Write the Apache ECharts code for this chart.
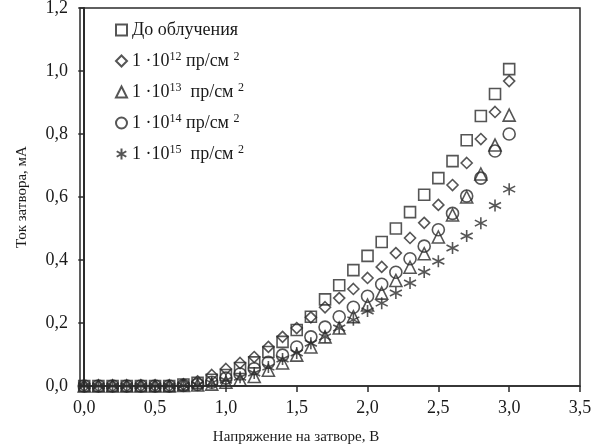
<!DOCTYPE html>
<html>
<head>
<meta charset="utf-8">
<script src="https://cdn.jsdelivr.net/npm/echarts@6/dist/echarts.min.js"></script>
<style>
  html, body { margin: 0; padding: 0; background: #fff; }
  #chart { width: 598px; height: 446px; }
</style>
</head>
<body>
<div id="chart"></div>
<script>
// напряжение на затворе, В
const voltage = [0, 0.1, 0.2, 0.3, 0.4, 0.5, 0.6, 0.7, 0.8, 0.9, 1.0,
  1.1, 1.2, 1.3, 1.4, 1.5, 1.6, 1.7, 1.8, 1.9, 2.0,
  2.1, 2.2, 2.3, 2.4, 2.5, 2.6, 2.7, 2.8, 2.9, 3.0];

// ток затвора, мА
const before = [0, 0, 0, 0, 0, 0, 0, 0.005, 0.01, 0.02, 0.035,
  0.057, 0.075, 0.108, 0.14, 0.178, 0.22, 0.275, 0.32, 0.368, 0.413,
  0.457, 0.50, 0.552, 0.607, 0.66, 0.714, 0.78, 0.857, 0.927, 1.006];
const dose12 = [0, 0, 0, 0, 0, 0, 0, 0.005, 0.015, 0.035, 0.054,
  0.073, 0.092, 0.124, 0.156, 0.184, 0.218, 0.25, 0.279, 0.308, 0.343,
  0.378, 0.422, 0.47, 0.518, 0.575, 0.638, 0.708, 0.784, 0.87, 0.968];
const dose13 = [0, 0, 0, 0, 0, 0, 0, 0.002, 0.003, 0.006, 0.012,
  0.02, 0.03, 0.05, 0.073, 0.098, 0.124, 0.156, 0.184, 0.22, 0.257,
  0.295, 0.335, 0.377, 0.42, 0.473, 0.543, 0.60, 0.673, 0.765, 0.86];
const dose14 = [0, 0, 0, 0, 0, 0, 0, 0.002, 0.005, 0.012, 0.025,
  0.038, 0.055, 0.075, 0.098, 0.124, 0.156, 0.187, 0.22, 0.25, 0.285,
  0.323, 0.361, 0.404, 0.444, 0.496, 0.548, 0.603, 0.66, 0.746, 0.80];
const dose15 = [0, 0, 0, 0, 0, 0, 0, 0.002, 0.004, 0.01, 0.018,
  0.028, 0.041, 0.06, 0.086, 0.105, 0.136, 0.156, 0.184, 0.21, 0.238,
  0.263, 0.295, 0.327, 0.362, 0.396, 0.438, 0.476, 0.517, 0.573, 0.625];

const seriesNames = ['До облучения', '1e12', '1e13', '1e14', '1e15'];
const legendLabels = [
  'До облучения',
  '1 ·10{s|12} пр/см {s|2}',
  '1 ·10{s|13}  пр/см {s|2}',
  '1 ·10{s|14} пр/см {s|2}',
  '1 ·10{s|15}  пр/см {s|2}'
];
const xTicks = [0, 0.5, 1.0, 1.5, 2.0, 2.5, 3.0, 3.5];

const ink = '#2b2b2b';
const txt = '#1a1a1a';
const font = 'Liberation Serif';
// звёздочка из трёх отрезков
const asterisk = 'path://M0,-1L0,1M-0.87,-0.5L0.87,0.5M-0.87,0.5L0.87,-0.5';

function pts(vals) {
  return voltage.map((v, i) => [v, vals[i]]);
}

function mk(name, vals, symbol, size) {
  return {
    name: name,
    type: 'scatter',
    data: pts(vals),
    symbol: symbol,
    symbolSize: size,
    silent: true,
    itemStyle: {
      color: 'rgba(255,255,255,0)',
      borderColor: ink,
      borderWidth: 1.6
    }
  };
}

const chart = echarts.init(document.getElementById('chart'));
chart.setOption({
  animation: false,
  backgroundColor: '#fff',
  grid: {
    left: 80, right: 18, top: 8, bottom: 60,
    outerBoundsMode: 'none',
    show: true,
    borderColor: ink,
    borderWidth: 1.5
  },
  legend: {
    orient: 'vertical',
    left: 110,
    top: 15,
    itemGap: 11,
    itemWidth: 11,
    itemHeight: 11,
    selectedMode: false,
    data: seriesNames,
    formatter: function (name) {
      return legendLabels[seriesNames.indexOf(name)];
    },
    textStyle: {
      fontFamily: font,
      fontSize: 18,
      color: txt,
      lineHeight: 20,
      rich: {
        s: {
          fontFamily: font,
          fontSize: 12,
          lineHeight: 11,
          verticalAlign: 'top',
          color: txt
        }
      }
    }
  },
  xAxis: {
    type: 'value',
    min: -0.03,
    max: 3.5,
    name: 'Напряжение на затворе, В',
    nameLocation: 'middle',
    nameGap: 44,
    nameTextStyle: { fontFamily: font, fontSize: 15, color: txt, padding: [0, 68, 0, 0] },
    splitLine: { show: false },
    axisLine: { lineStyle: { color: ink, width: 1.5 } },
    axisTick: { show: true, length: 6, customValues: xTicks, lineStyle: { color: ink, width: 1.5 } },
    axisLabel: {
      customValues: xTicks,
      margin: 13,
      fontFamily: font,
      fontSize: 18,
      color: txt,
      formatter: v => v.toFixed(1).replace('.', ',')
    }
  },
  yAxis: {
    type: 'value',
    min: 0,
    max: 1.2,
    interval: 0.2,
    name: 'Ток затвора, мА',
    nameLocation: 'middle',
    nameGap: 50,
    nameTextStyle: { fontFamily: font, fontSize: 15, color: txt },
    splitLine: { show: false },
    axisLine: { lineStyle: { color: ink, width: 2 } },
    axisTick: { show: true, length: 6, lineStyle: { color: ink, width: 1.5 } },
    axisLabel: {
      margin: 12,
      fontFamily: font,
      fontSize: 18,
      color: txt,
      formatter: v => v.toFixed(1).replace('.', ',')
    }
  },
  series: [
    mk(seriesNames[0], before, 'rect', 11),
    mk(seriesNames[1], dose12, 'diamond', 11),
    mk(seriesNames[2], dose13, 'triangle', 12),
    mk(seriesNames[3], dose14, 'circle', 12),
    mk(seriesNames[4], dose15, asterisk, 12)
  ]
});
</script>
</body>
</html>
